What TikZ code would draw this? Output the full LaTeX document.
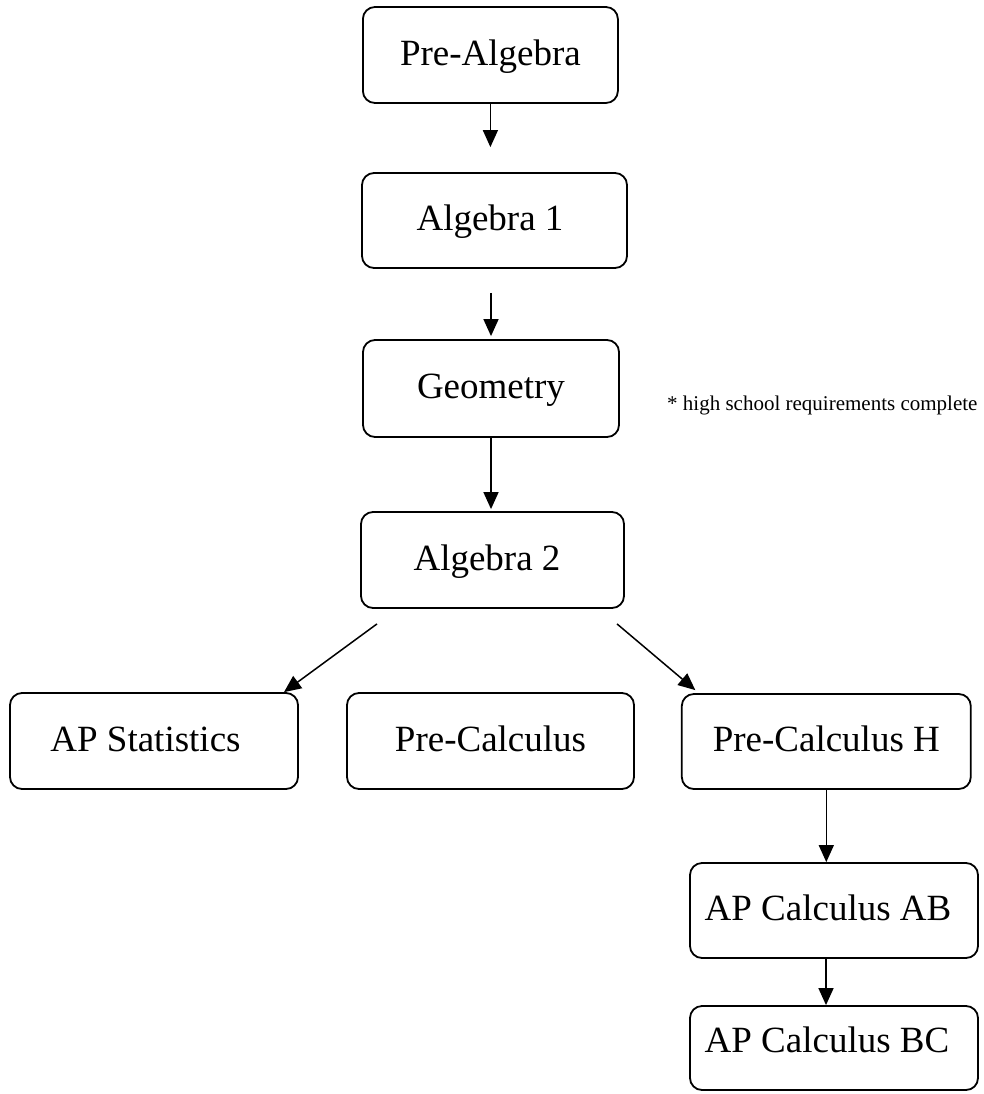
\documentclass[tikz,border=0pt]{standalone}
\usepackage{fontspec}
\setmainfont{Liberation Serif}
\usetikzlibrary{arrows.meta,calc}
\tikzset{
  box/.style={draw=black, line width=1.8pt, rounded corners=12pt, inner sep=0pt,
    font=\fontsize{37}{40}\selectfont, text height=26pt, text depth=5.5pt},
  arr/.style={draw=black, line width=1.5pt, -{Triangle[length=17pt,width=15pt]}},
  note/.style={font=\fontsize{21}{24}\selectfont, inner sep=0pt}
}
\begin{document}
\begin{tikzpicture}[x=1pt,y=-1pt]
\useasboundingbox (0,0) rectangle (983,1094);
\node[box, minimum width=255pt, minimum height=96pt] (pa) at (490.4,55) {Pre-Algebra};
\node[box, minimum width=265pt, minimum height=95pt] (a1) at (494.5,220.5) {Algebra 1\hspace*{9pt}};
\node[box, minimum width=256pt, minimum height=97pt] (geo) at (491,388.5) {Geometry};
\node[box, minimum width=263pt, minimum height=96pt] (a2) at (492.5,560) {Algebra 2\hspace*{11pt}};
\node[box, minimum width=288pt, minimum height=96pt] (aps) at (154,741) {AP Statistics\hspace*{17pt}};
\node[box, minimum width=287pt, minimum height=96pt] (pc) at (490.5,741) {Pre-Calculus};
\node[box, minimum width=289pt, minimum height=95pt] (pch) at (826.3,741.5) {Pre-Calculus H};
\node[box, minimum width=288pt, minimum height=95pt] (ab) at (834,910.5) {AP Calculus AB\hspace*{12pt}};
\node[box, minimum width=288pt, minimum height=84pt, text depth=16.5pt] (bc) at (834,1048) {AP Calculus BC\hspace*{14pt}};
\node[note, anchor=base west] (req) at (667,410) {* high school requirements complete};

\draw[arr, shorten >=25pt] (pa.south) -- (pa.south |- a1.north);
\draw[arr, shorten <=24pt, shorten >=3pt] (geo.north |- a1.south) -- (geo.north);
\draw[arr, shorten >=2pt] (geo.south) -- (geo.south |- a2.north);
\draw[arr] ([xshift=-115.5pt,yshift=-15pt]a2.south) -- ([xshift=130pt]aps.north);
\draw[arr] ([xshift=124.5pt,yshift=-15pt]a2.south) -- ([xshift=-131pt,yshift=3pt]pch.north);
\draw[arr] (pch.south) -- (pch.south |- ab.north);
\draw[arr] ([xshift=-8pt]ab.south) -- ([xshift=-8pt]bc.north);
\end{tikzpicture}
\end{document}
